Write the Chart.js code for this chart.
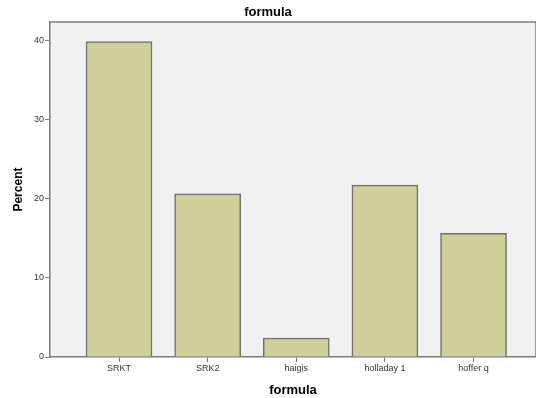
<!DOCTYPE html>
<html>
<head>
<meta charset="utf-8">
<title>formula</title>
<script src="https://cdn.jsdelivr.net/npm/chart.js@4.4.1/dist/chart.umd.min.js"></script>
<style>
    body { margin: 0; background: #ffffff; }
    #wrap { width: 536px; height: 398px; position: relative; }
</style>
</head>
<body>
<div id="wrap"><canvas id="chart"></canvas></div>
<script>
// data
const formulaLabels = ['SRKT', 'SRK2', 'haigis', 'holladay 1', 'hoffer q'];
const percentValues = [39.8, 20.6, 2.4, 21.7, 15.6];
const yTicks = [0, 10, 20, 30, 40];

const axisGrey = '#7d7d7d';
const fontFamily = '"Liberation Sans", Arial, sans-serif';

// grey plot background + frame, like the SPSS output
const plotFrame = {
    id: 'plotFrame',
    beforeDraw(chart) {
        const a = chart.chartArea;
        const ctx = chart.ctx;
        ctx.save();
        ctx.fillStyle = '#f1f1f1';
        ctx.fillRect(a.left, a.top, a.right - a.left, a.bottom - a.top);
        ctx.restore();
    },
    afterDraw(chart) {
        const a = chart.chartArea;
        const ctx = chart.ctx;
        ctx.save();
        ctx.strokeStyle = axisGrey;
        ctx.lineWidth = 1.5;
        ctx.beginPath();
        ctx.moveTo(a.left, a.top);
        ctx.lineTo(a.right, a.top);
        ctx.lineTo(a.right, a.bottom);
        ctx.stroke();
        ctx.restore();
    }
};

const points = formulaLabels.map(function(label, i) {
    return { x: i + 1, y: percentValues[i] };
});

new Chart(document.getElementById('chart'), {
    type: 'bar',
    data: {
        datasets: [{
            label: 'Percent',
            data: points,
            backgroundColor: '#d1cf99',
            borderColor: '#6f6f6f',
            borderWidth: 1.5,
            barThickness: 66
        }]
    },
    options: {
        responsive: true,
        maintainAspectRatio: false,
        animation: false,
        layout: { padding: 0 },
        plugins: {
            legend: { display: false },
            tooltip: { enabled: false },
            title: {
                display: true,
                text: 'formula',
                color: '#000000',
                font: { family: fontFamily, size: 13, weight: 'bold' },
                padding: { top: 4.5, bottom: 2 }
            }
        },
        scales: {
            x: {
                type: 'linear',
                min: 0.221,
                max: 5.705,
                offset: false,
                afterFit: function(scale) { scale.height = 41; },
                afterBuildTicks: function(scale) {
                    scale.ticks = formulaLabels.map(function(l, i) { return { value: i + 1 }; });
                },
                ticks: {
                    callback: function(value) { return formulaLabels[value - 1]; },
                    color: '#333333',
                    font: { family: fontFamily, size: 9 },
                    padding: 1,
                    maxRotation: 0,
                    autoSkip: false
                },
                grid: {
                    offset: false,
                    drawOnChartArea: false,
                    drawTicks: true,
                    tickLength: 5,
                    color: axisGrey,
                    lineWidth: 1
                },
                border: { display: true, color: axisGrey, width: 1.5 },
                title: {
                    display: true,
                    text: 'formula',
                    color: '#000000',
                    font: { family: fontFamily, size: 13, weight: 'bold' },
                    padding: { top: 3.2, bottom: 0 }
                }
            },
            y: {
                min: 0,
                max: 42.27,
                afterFit: function(scale) { scale.width = 50; },
                afterBuildTicks: function(scale) {
                    scale.ticks = yTicks.map(function(v) { return { value: v }; });
                },
                ticks: {
                    color: '#333333',
                    font: { family: fontFamily, size: 9 },
                    padding: 1
                },
                grid: {
                    drawOnChartArea: false,
                    drawTicks: true,
                    tickLength: 5,
                    color: axisGrey,
                    lineWidth: 1
                },
                border: { display: true, color: axisGrey, width: 1.5 },
                title: {
                    display: true,
                    text: 'Percent',
                    color: '#000000',
                    font: { family: fontFamily, size: 12, weight: 'bold' },
                    padding: { top: 11.3, bottom: 0 }
                }
            }
        }
    },
    plugins: [plotFrame]
});
</script>
</body>
</html>
